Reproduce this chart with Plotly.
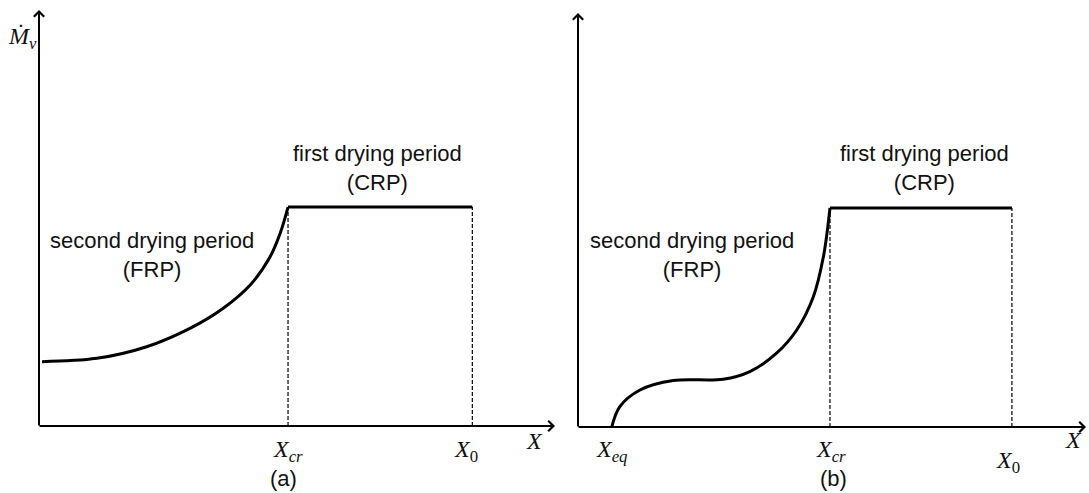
import plotly.graph_objects as go

W, H = 1089, 493

# ---- panel (a): drying-rate curve with a monotone falling-rate period ----
a_x_cr = 5.0
a_x_0 = 8.7
a_rate_crp = 1.0
a_frp_x = [0.06, 1.16, 2.16, 3.03, 3.70, 4.24, 4.64, 4.84, 5.0]
a_frp_y = [0.294, 0.309, 0.362, 0.446, 0.538, 0.644, 0.773, 0.879, 1.0]

# ---- panel (b): falling-rate period with an intermediate plateau ----
b_x_eq = 0.67
b_x_cr = 5.0
b_x_0 = 8.61
b_rate_crp = 1.0
b_frp_x = [0.67, 0.83, 1.23, 1.89, 2.88, 3.41, 3.94, 4.34, 4.67, 4.87, 5.0]
b_frp_y = [0.0, 0.093, 0.169, 0.212, 0.218, 0.253, 0.337, 0.443, 0.595, 0.778, 1.0]

# axis extents (data units)
a_xmax, a_ymax = 10.36, 1.90
b_xmax, b_ymax = 10.08, 1.89

TEXT_FONT = dict(family="Liberation Sans, Arial, sans-serif", size=22, color="#111111")
CAPTION_FONT = dict(family="Liberation Sans, Arial, sans-serif", size=22, color="#111111")
MATH_FONT = dict(family="Liberation Serif, Times New Roman, serif", size=24, color="#111111")


def px(x):
    return x / W


def py(y):
    return 1 - y / H


fig = go.Figure()

CURVE = dict(color="black", width=3)
DASH = dict(color="black", width=1.2, dash="4px,2px")

# panel (a) traces
fig.add_trace(go.Scatter(x=a_frp_x, y=a_frp_y, mode="lines",
                         line=dict(shape="spline", smoothing=1.0, **CURVE),
                         xaxis="x", yaxis="y"))
fig.add_trace(go.Scatter(x=[a_x_cr, a_x_0], y=[a_rate_crp, a_rate_crp], mode="lines",
                         line=CURVE, xaxis="x", yaxis="y"))
for xv in (a_x_cr, a_x_0):
    fig.add_trace(go.Scatter(x=[xv, xv], y=[0, a_rate_crp], mode="lines",
                             line=DASH, xaxis="x", yaxis="y"))

# panel (b) traces
fig.add_trace(go.Scatter(x=b_frp_x, y=b_frp_y, mode="lines",
                         line=dict(shape="spline", smoothing=1.0, **CURVE),
                         xaxis="x2", yaxis="y2"))
fig.add_trace(go.Scatter(x=[b_x_cr, b_x_0], y=[b_rate_crp, b_rate_crp], mode="lines",
                         line=CURVE, xaxis="x2", yaxis="y2"))
for xv in (b_x_cr, b_x_0):
    fig.add_trace(go.Scatter(x=[xv, xv], y=[0, b_rate_crp], mode="lines",
                             line=DASH, xaxis="x2", yaxis="y2"))

annotations = []


def axis_arrow(xr, yr, x0, y0, x1, y1):
    annotations.append(dict(
        x=x1, y=y1, ax=x0, ay=y0, xref=xr, yref=yr, axref=xr, ayref=yr,
        text="", showarrow=True, arrowhead=4, arrowsize=1, arrowwidth=2,
        arrowcolor="black", standoff=0, startstandoff=0))


axis_arrow("x", "y", -0.02, 0, a_xmax, 0)
axis_arrow("x", "y", 0, -0.005, 0, a_ymax)
axis_arrow("x2", "y2", -0.02, 0, b_xmax, 0)
axis_arrow("x2", "y2", 0, -0.005, 0, b_ymax)


def text(x, y, s, font, xref="paper", yref="paper"):
    annotations.append(dict(x=x, y=y, xref=xref, yref=yref, text=s, showarrow=False,
                            font=font, xanchor="center", yanchor="middle"))


# axis symbols
text(px(22), py(38), "<i>Ṁ</i><sub><i>v</i></sub>", MATH_FONT)
text(a_x_cr, py(451), "<i>X</i><sub><i>cr</i></sub>", MATH_FONT, xref="x")
text(a_x_0 - 0.12, py(451), "<i>X</i><sub>0</sub>", MATH_FONT, xref="x")
text(px(534), py(441), "<i>X</i>", MATH_FONT)
text(b_x_eq, py(451), "<i>X</i><sub><i>eq</i></sub>", MATH_FONT, xref="x2")
text(b_x_cr + 0.02, py(451), "<i>X</i><sub><i>cr</i></sub>", MATH_FONT, xref="x2")
text(b_x_0 - 0.08, py(462), "<i>X</i><sub>0</sub>", MATH_FONT, xref="x2")
text(px(1073), py(440), "<i>X</i>", MATH_FONT)

# period descriptions
text(px(152), py(255), "second drying period<br>(FRP)", TEXT_FONT)
text(px(377), py(168), "first drying period<br>(CRP)", TEXT_FONT)
text(px(692), py(255), "second drying period<br>(FRP)", TEXT_FONT)
text(px(924), py(168), "first drying period<br>(CRP)", TEXT_FONT)

# panel captions
text(px(283), py(478), "(a)", CAPTION_FONT)
text(px(833), py(478), "(b)", CAPTION_FONT)

hidden = dict(visible=False, showgrid=False, zeroline=False, fixedrange=True)

fig.update_layout(
    width=W, height=H,
    margin=dict(l=0, r=0, t=0, b=0),
    paper_bgcolor="white", plot_bgcolor="rgba(0,0,0,0)",
    showlegend=False,
    xaxis=dict(domain=[px(39), px(555)], range=[0, a_xmax], **hidden),
    yaxis=dict(domain=[py(426), py(10)], range=[0, a_ymax], **hidden),
    xaxis2=dict(domain=[px(578), px(1086)], range=[0, b_xmax], **hidden),
    yaxis2=dict(domain=[py(427), py(13)], range=[0, b_ymax], **hidden),
    annotations=annotations,
)

fig.write_html("out.html", config={"displayModeBar": False})
